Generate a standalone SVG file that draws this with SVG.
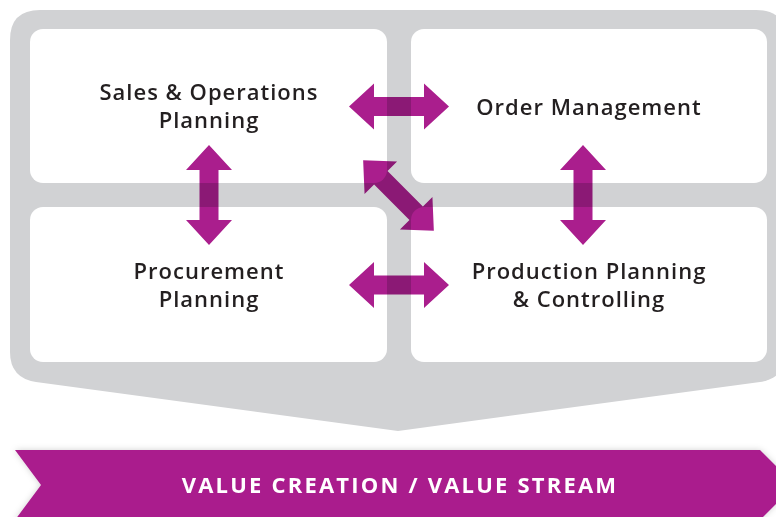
<svg xmlns="http://www.w3.org/2000/svg" width="776" height="517" viewBox="0 0 776 517">
<defs>
<style>
.frame{fill:#d1d2d4}
.box{fill:#ffffff}
.lbl{font-family:"Open Sans","Liberation Sans",sans-serif;font-size:22px;font-weight:600;fill:#231f20;text-anchor:middle;letter-spacing:1px}
.arrow{fill:#aa1e8d;mix-blend-mode:multiply}
.banner{fill:#aa1e8d}
.btxt{font-family:"Open Sans","Liberation Sans",sans-serif;font-size:22px;font-weight:700;fill:#ffffff;text-anchor:middle;letter-spacing:2.2px}
</style>
<polygon id="arr" points="-50,0 -25,-23 -25,-9.5 25,-9.5 25,-23 50,0 25,23 25,9.5 -25,9.5 -25,23"/>
<filter id="sh" x="-5%" y="-20%" width="110%" height="140%">
<feDropShadow dx="0" dy="0" stdDeviation="3" flood-color="#000" flood-opacity="0.18"/>
</filter>
</defs>
<rect width="776" height="517" fill="#ffffff"/>
<path class="frame" d="M40,10 H756 Q786,10 786,40 V352 Q786,378 760,382 L398,431 L36,382 Q10,378 10,352 V40 Q10,10 40,10 Z"/>
<g id="sop">
<rect class="box" x="30" y="29" width="357" height="154" rx="13"/>
<text class="lbl" x="209" y="100">Sales &amp; Operations</text>
<text class="lbl" x="209" y="128">Planning</text>
</g>
<g id="order">
<rect class="box" x="411" y="29" width="356" height="154" rx="13"/>
<text class="lbl" x="589" y="115">Order Management</text>
</g>
<g id="procurement">
<rect class="box" x="30" y="207" width="357" height="155" rx="13"/>
<text class="lbl" x="209" y="279">Procurement</text>
<text class="lbl" x="209" y="307">Planning</text>
</g>
<g id="production">
<rect class="box" x="411" y="207" width="356" height="155" rx="13"/>
<text class="lbl" x="589" y="279">Production Planning</text>
<text class="lbl" x="589" y="307">&amp; Controlling</text>
</g>
<g id="connectors">
<use href="#arr" class="arrow" transform="translate(399,106.5)"/>
<use href="#arr" class="arrow" transform="translate(399,285)"/>
<use href="#arr" class="arrow" transform="translate(209,195) rotate(90)"/>
<use href="#arr" class="arrow" transform="translate(583,195) rotate(90)"/>
<use href="#arr" class="arrow" transform="translate(398.5,195.5) rotate(45)"/>
</g>
<g id="banner">
<polygon class="banner" filter="url(#sh)" points="15,450 760,450 795,485 760,520 15,520 41,485"/>
<text class="btxt" x="400" y="493">VALUE CREATION / VALUE STREAM</text>
</g>
</svg>
